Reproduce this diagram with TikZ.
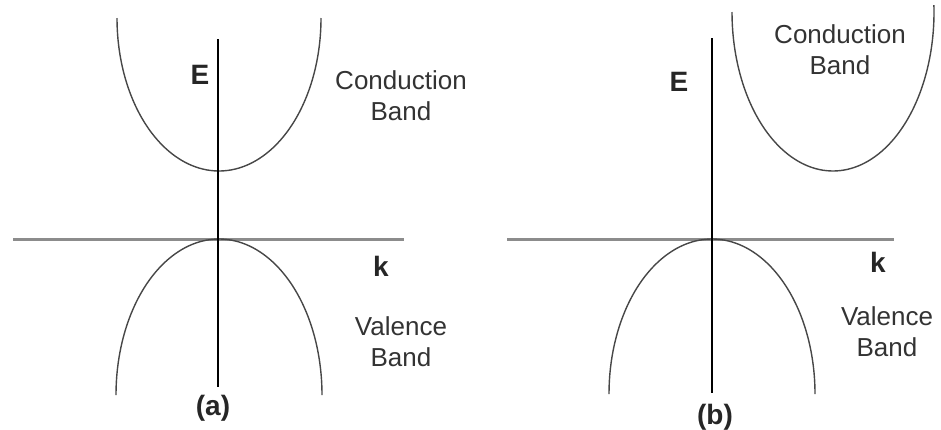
\documentclass[tikz,border=0pt]{standalone}
\usepackage{fontspec}
\setmainfont{Liberation Sans}
\begin{document}
\begin{tikzpicture}[x=1pt,y=-1pt,
  band/.style={draw=black!72,line width=1.4pt,smooth},
  eaxis/.style={draw=black,line width=2.5pt},
  kaxis/.style={draw=black!45,line width=3pt},
  lbl/.style={text=black!80,font=\fontsize{26}{31}\selectfont,align=center,inner sep=0pt},
  blbl/.style={text=black!85,font=\bfseries\fontsize{28}{31}\selectfont,inner sep=0pt}]
\useasboundingbox (0,0) rectangle (941,429);
% panel (a)
\coordinate (aEtop) at (218,39);
\coordinate (aEbot) at (218,387);
\coordinate (aKl) at (13,239);
\coordinate (aKr) at (404,239);
\draw[kaxis] (aKl) -- (aKr);
\draw[band] plot[domain=0:180,samples=90] ({219+102*cos(\x)},{18+153*sin(\x)});
\draw[band] plot[domain=0:180,samples=90] ({219+103*cos(\x)},{395-156*sin(\x)});
\draw[eaxis] (aEtop) -- (aEbot);
\node[blbl] (aE) at (200,75) {E};
\node[blbl] (ak) at (381,266) {k};
\node[lbl] (acb) at (401,96) {Conduction\\Band};
\node[lbl] (avb) at (401,342) {Valence\\Band};
\node[blbl] (acap) at (213,408) {(a)};
% panel (b)
\coordinate (bEtop) at (712,38);
\coordinate (bEbot) at (712,393);
\coordinate (bKl) at (507,239);
\coordinate (bKr) at (894,239);
\draw[kaxis] (bKl) -- (bKr);
\draw[band] plot[domain=-2.5:180,samples=90] ({833+101*cos(\x)},{12+159*sin(\x)});
\draw[band] plot[domain=0:180,samples=90] ({712+103*cos(\x)},{394-155*sin(\x)});
\draw[eaxis] (bEtop) -- (bEbot);
\node[blbl] (bE) at (679,82) {E};
\node[blbl] (bk) at (878,262) {k};
\node[lbl] (bcb) at (840,50) {Conduction\\Band};
\node[lbl] (bvb) at (887,332) {Valence\\Band};
\node[blbl] (bcap) at (715,417) {(b)};
\end{tikzpicture}
\end{document}
